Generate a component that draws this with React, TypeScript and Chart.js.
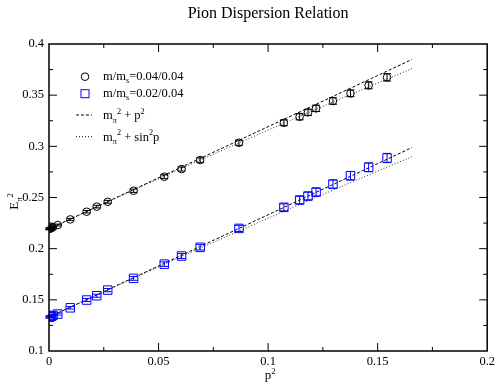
import React, { useEffect, useRef } from "react";
import { Chart, registerables } from "chart.js";

Chart.register(...registerables);

const FONT = '"Liberation Serif", "Times New Roman", Times, serif';

// ---- data ----
const pSquared = [0, 0.0004, 0.0008, 0.0012, 0.0018, 0.004, 0.0097, 0.0172, 0.0218, 0.0268, 0.0386, 0.0526, 0.0605, 0.069, 0.0867, 0.1072, 0.1144, 0.1182, 0.1219, 0.1296, 0.1376, 0.1459, 0.1543];
const heavyE2 = [0.2192, 0.2195, 0.22, 0.2204, 0.221, 0.2231, 0.2286, 0.2361, 0.2411, 0.2458, 0.2566, 0.2703, 0.2778, 0.2866, 0.3035, 0.323, 0.3289, 0.3332, 0.3371, 0.3443, 0.3518, 0.3596, 0.3674];
const heavyErr = [0.0008, 0.0008, 0.0008, 0.0008, 0.0008, 0.0009, 0.001, 0.0012, 0.0013, 0.0014, 0.0016, 0.0019, 0.002, 0.0022, 0.0025, 0.0028, 0.003, 0.003, 0.0031, 0.0032, 0.0033, 0.0034, 0.0036];
const lightE2 = [0.1331, 0.1334, 0.1338, 0.1342, 0.1348, 0.1361, 0.1422, 0.1498, 0.154, 0.1595, 0.171, 0.1849, 0.1928, 0.2013, 0.2198, 0.2404, 0.2475, 0.2514, 0.2553, 0.2631, 0.2713, 0.2795, 0.2886];
const lightErr = [0.0009, 0.0009, 0.0009, 0.0009, 0.0009, 0.001, 0.0012, 0.0014, 0.0015, 0.0016, 0.0019, 0.0022, 0.0024, 0.0026, 0.003, 0.0034, 0.0036, 0.0037, 0.0038, 0.004, 0.0041, 0.0043, 0.0045];

const curveP = [0, 0.03, 0.06, 0.09, 0.12, 0.15, 0.1657];
const heavyLinear = [0.2192, 0.2492, 0.2792, 0.3092, 0.3392, 0.3692, 0.3849];
const heavySine = [0.2192, 0.2489, 0.278, 0.3065, 0.3345, 0.3619, 0.376];
const lightLinear = [0.1331, 0.1631, 0.1931, 0.2231, 0.2531, 0.2831, 0.2988];
const lightSine = [0.1331, 0.1628, 0.1919, 0.2204, 0.2484, 0.2758, 0.2899];

const xTicks = [0, 0.05, 0.1, 0.15, 0.2];
const xTickLabels = ["0", "0.05", "0.1", "0.15", "0.2"];
const yTicks = [0.1, 0.15, 0.2, 0.25, 0.3, 0.35, 0.4];
const yTickLabels = ["0.1", "0.15", "0.2", "0.25", "0.3", "0.35", "0.4"];

const titleText = "Pion Dispersion Relation";
const legendHeavy = "0.04/0.04";
const legendLight = "0.02/0.04";

type Part = [string, number]; // 0 normal, 1 superscript, -1 subscript

function drawRich(ctx: CanvasRenderingContext2D, parts: Part[], x: number, y: number, size: number, center: boolean) {
  const small = size * 0.66;
  let total = 0;
  const items = parts.map(([t, k]) => {
    ctx.font = `${k ? small : size}px ${FONT}`;
    const w = ctx.measureText(t).width;
    total += w;
    return { t, k, w };
  });
  let cx = center ? x - total / 2 : x;
  ctx.textAlign = "left";
  ctx.textBaseline = "alphabetic";
  for (const it of items) {
    ctx.font = `${it.k ? small : size}px ${FONT}`;
    const dy = it.k === 1 ? -size * 0.42 : it.k === -1 ? size * 0.28 : 0;
    ctx.fillText(it.t, cx, y + dy);
    cx += it.w;
  }
}

const errorBarPlugin = {
  id: "errorBars",
  afterDatasetsDraw(chart: any) {
    const ctx = chart.ctx as CanvasRenderingContext2D;
    const xs = chart.scales.x;
    const ys = chart.scales.y;
    const sets: [number[], number[], string][] = [
      [heavyE2, heavyErr, "#000000"],
      [lightE2, lightErr, "#0000ff"],
    ];
    ctx.save();
    ctx.lineWidth = 1;
    for (const [vals, errs, col] of sets) {
      ctx.strokeStyle = col;
      vals.forEach((v, i) => {
        const px = xs.getPixelForValue(pSquared[i]);
        const y1 = ys.getPixelForValue(v - errs[i]);
        const y2 = ys.getPixelForValue(v + errs[i]);
        ctx.beginPath();
        ctx.moveTo(px, y1);
        ctx.lineTo(px, y2);
        ctx.moveTo(px - 4, y1);
        ctx.lineTo(px + 4, y1);
        ctx.moveTo(px - 4, y2);
        ctx.lineTo(px + 4, y2);
        ctx.stroke();
      });
    }
    ctx.restore();
  },
};

const framePlugin = {
  id: "frame",
  afterDraw(chart: any) {
    const ctx = chart.ctx as CanvasRenderingContext2D;
    const { left, right, top, bottom } = chart.chartArea;
    const xs = chart.scales.x;
    const ys = chart.scales.y;
    ctx.save();
    // frame
    ctx.strokeStyle = "#000";
    ctx.lineWidth = 1.5;
    ctx.strokeRect(left, top, right - left, bottom - top);
    // ticks
    ctx.lineWidth = 1;
    ctx.beginPath();
    for (let i = 0; i < xTicks.length - 1; i++) {
      const major = xTicks[i + 1];
      const minor = (xTicks[i] + xTicks[i + 1]) / 2;
      const pm = xs.getPixelForValue(minor);
      ctx.moveTo(pm, bottom); ctx.lineTo(pm, bottom - 4);
      ctx.moveTo(pm, top); ctx.lineTo(pm, top + 4);
      if (i < xTicks.length - 2) {
        const pM = xs.getPixelForValue(major);
        ctx.moveTo(pM, bottom); ctx.lineTo(pM, bottom - 8);
        ctx.moveTo(pM, top); ctx.lineTo(pM, top + 8);
      }
    }
    for (let i = 0; i < yTicks.length - 1; i++) {
      const major = yTicks[i + 1];
      const minor = (yTicks[i] + yTicks[i + 1]) / 2;
      const pm = ys.getPixelForValue(minor);
      ctx.moveTo(left, pm); ctx.lineTo(left + 4, pm);
      ctx.moveTo(right, pm); ctx.lineTo(right - 4, pm);
      if (i < yTicks.length - 2) {
        const pM = ys.getPixelForValue(major);
        ctx.moveTo(left, pM); ctx.lineTo(left + 8, pM);
        ctx.moveTo(right, pM); ctx.lineTo(right - 8, pM);
      }
    }
    ctx.stroke();

    // title
    ctx.fillStyle = "#000";
    ctx.font = `16px ${FONT}`;
    ctx.textAlign = "center";
    ctx.textBaseline = "alphabetic";
    ctx.fillText(titleText, (left + right) / 2, 18);

    // axis titles
    drawRich(ctx, [["p", 0], ["2", 1]], (left + right) / 2 + 2, 379, 13, true);
    ctx.save();
    ctx.translate(18, (top + bottom) / 2 + 4);
    ctx.rotate(-Math.PI / 2);
    drawRich(ctx, [["E", 0], ["\u03c0", -1], ["2", 1]], 0, 0, 13, true);
    ctx.restore();

    // legend
    const sx = 85;
    const tx = 103;
    const rows = [76.7, 93.7, 115, 136.7];
    ctx.lineWidth = 1;
    ctx.strokeStyle = "#000";
    ctx.beginPath();
    ctx.arc(sx, rows[0], 3.8, 0, Math.PI * 2);
    ctx.stroke();
    ctx.strokeStyle = "#0000ff";
    ctx.strokeRect(sx - 4, rows[1] - 4, 8, 8);
    ctx.strokeStyle = "#000";
    ctx.setLineDash([3, 2]);
    ctx.beginPath();
    ctx.moveTo(76, rows[2]); ctx.lineTo(92, rows[2]);
    ctx.stroke();
    ctx.setLineDash([1, 2]);
    ctx.beginPath();
    ctx.moveTo(76, rows[3]); ctx.lineTo(93, rows[3]);
    ctx.stroke();
    ctx.setLineDash([]);
    ctx.fillStyle = "#000";
    drawRich(ctx, [["m/m", 0], ["s", -1], ["=" + legendHeavy, 0]], tx, rows[0] + 3, 12.5, false);
    drawRich(ctx, [["m/m", 0], ["s", -1], ["=" + legendLight, 0]], tx, rows[1] + 3, 12.5, false);
    drawRich(ctx, [["m", 0], ["\u03c0", -1], ["2", 1], [" + p", 0], ["2", 1]], tx, rows[2] + 4, 12.5, false);
    drawRich(ctx, [["m", 0], ["\u03c0", -1], ["2", 1], [" + sin", 0], ["2", 1], ["p", 0]], tx, rows[3] + 4, 12.5, false);
    ctx.restore();
  },
};

export default function App() {
  const ref = useRef<HTMLCanvasElement | null>(null);
  useEffect(() => {
    if (!ref.current) return;
    const toXY = (xs: number[], ys: number[]) => xs.map((x, i) => ({ x, y: ys[i] }));
    const chart = new Chart(ref.current, {
      type: "scatter",
      data: {
        datasets: [
          {
            label: "heavy",
            data: toXY(pSquared, heavyE2),
            pointStyle: "circle",
            pointRadius: 3.8,
            borderColor: "#000",
            backgroundColor: "rgba(0,0,0,0)",
            borderWidth: 1,
            showLine: false,
          },
          {
            label: "light",
            data: toXY(pSquared, lightE2),
            pointStyle: "rect",
            pointRadius: 6,
            borderColor: "#0000ff",
            backgroundColor: "rgba(0,0,0,0)",
            borderWidth: 1,
            showLine: false,
          },
          {
            label: "heavy linear",
            data: toXY(curveP, heavyLinear),
            showLine: true,
            pointRadius: 0,
            borderColor: "#000",
            borderWidth: 1,
            borderDash: [3, 2],
          },
          {
            label: "heavy sine",
            data: toXY(curveP, heavySine),
            showLine: true,
            pointRadius: 0,
            borderColor: "#333",
            borderWidth: 1,
            borderDash: [1, 2],
          },
          {
            label: "light linear",
            data: toXY(curveP, lightLinear),
            showLine: true,
            pointRadius: 0,
            borderColor: "#000",
            borderWidth: 1,
            borderDash: [3, 2],
          },
          {
            label: "light sine",
            data: toXY(curveP, lightSine),
            showLine: true,
            pointRadius: 0,
            borderColor: "#333",
            borderWidth: 1,
            borderDash: [1, 2],
          },
        ],
      },
      options: {
        responsive: false,
        animation: false,
        devicePixelRatio: 1,
        layout: { padding: { top: 44, right: 10, left: 0, bottom: 0 } },
        plugins: { legend: { display: false }, tooltip: { enabled: false }, title: { display: false } },
        scales: {
          x: {
            type: "linear",
            min: 0,
            max: 0.2,
            grid: { display: false, drawTicks: false },
            border: { display: false },
            afterBuildTicks: (s: any) => { s.ticks = xTicks.map((v) => ({ value: v })); },
            afterFit: (s: any) => { s.height = 35; },
            ticks: {
              padding: 3,
              color: "#000",
              maxRotation: 0,
              autoSkip: false,
              font: { family: FONT, size: 12.5 },
              callback: (v: any) => { const i = xTicks.findIndex((t) => Math.abs(t - Number(v)) < 1e-9); return i >= 0 ? xTickLabels[i] : ""; },
            },
          },
          y: {
            type: "linear",
            min: 0.1,
            max: 0.4,
            grid: { display: false, drawTicks: false },
            border: { display: false },
            afterBuildTicks: (s: any) => { s.ticks = yTicks.map((v) => ({ value: v })); },
            afterFit: (s: any) => { s.width = 49; },
            ticks: {
              padding: 5,
              color: "#000",
              autoSkip: false,
              font: { family: FONT, size: 12.5 },
              callback: (v: any) => { const i = yTicks.findIndex((t) => Math.abs(t - Number(v)) < 1e-9); return i >= 0 ? yTickLabels[i] : ""; },
            },
          },
        },
      },
      plugins: [errorBarPlugin, framePlugin],
    } as any);
    return () => chart.destroy();
  }, []);
  return (
    <div style={{ position: "absolute", left: 0, top: 0, width: 498, height: 386, background: "#fff" }}>
      <canvas ref={ref} width={498} height={386} style={{ display: "block" }} />
    </div>
  );
}
